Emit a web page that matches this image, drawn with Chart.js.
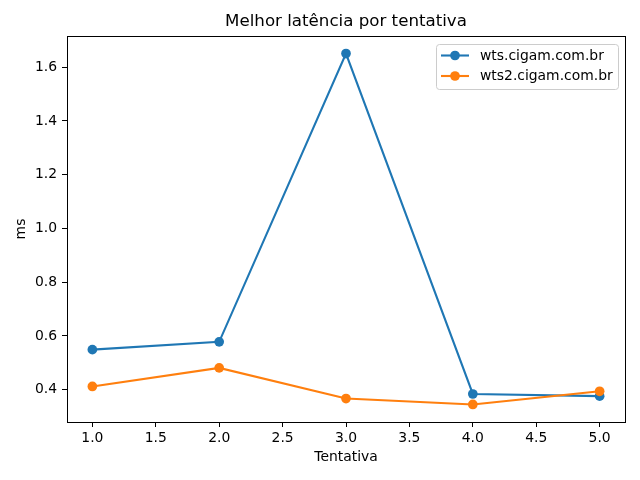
<!DOCTYPE html>
<html>
<head>
<meta charset="utf-8">
<script src="https://cdn.jsdelivr.net/npm/chart.js@4.4.1/dist/chart.umd.min.js"></script>
<style>
html,body{margin:0;padding:0;background:#fff;}
#wrap{width:640px;height:480px;}
</style>
</head>
<body>
<div id="wrap"><canvas id="c" width="640" height="480"></canvas></div>
<script>
const attempts = [1, 2, 3, 4, 5];
const seriesNames = ['wts.cigam.com.br', 'wts2.cigam.com.br'];
const wtsValues = [0.549, 0.578, 1.651, 0.384, 0.376];
const wts2Values = [0.412, 0.481, 0.367, 0.345, 0.394];
const xTickValues = [1.0, 1.5, 2.0, 2.5, 3.0, 3.5, 4.0, 4.5, 5.0];
const yTickValues = [0.4, 0.6, 0.8, 1.0, 1.2, 1.4, 1.6];

const FONT = 'DejaVu Sans';
Chart.defaults.font.family = FONT;
Chart.defaults.color = '#000';

function pts(vals){ return attempts.map((x,i)=>({x:x, y:vals[i]})); }

const allY = wtsValues.concat(wts2Values);
const yMinD = Math.min(...allY), yMaxD = Math.max(...allY);
const yM = (yMaxD - yMinD) * 0.05;
const xM = (attempts[attempts.length-1] - attempts[0]) * 0.05;

const colors = ['#1f77b4', '#ff7f0e'];
const MR = 4.85;

const frame = {
  id: 'frame',
  afterDatasetsDraw(chart){
    const {ctx, chartArea:a} = chart;
    ctx.save();
    ctx.strokeStyle = '#000';
    ctx.lineWidth = 1;
    ctx.strokeRect(Math.round(a.left)+0.5, Math.round(a.top)+0.5, Math.round(a.right-a.left), Math.round(a.bottom-a.top));
    ctx.restore();
  },
  afterDraw(chart){
    const ctx = chart.ctx;
    ctx.save();
    const bx = 436, by = 44, bw = 182, bh = 45;
    ctx.beginPath();
    ctx.roundRect(bx+0.5, by+0.5, bw, bh, 3);
    ctx.fillStyle = 'rgba(255,255,255,0.8)';
    ctx.fill();
    ctx.strokeStyle = '#cccccc';
    ctx.lineWidth = 1;
    ctx.stroke();
    ctx.font = '13.9px "' + FONT + '"';
    ctx.textBaseline = 'middle';
    ctx.textAlign = 'left';
    const rows = [55.5, 76];
    seriesNames.forEach((name, i) => {
      const y = rows[i];
      ctx.strokeStyle = colors[i];
      ctx.lineWidth = 2.1;
      ctx.beginPath();
      ctx.moveTo(441, y); ctx.lineTo(469, y);
      ctx.stroke();
      ctx.fillStyle = colors[i];
      ctx.beginPath();
      ctx.arc(455, y, MR, 0, Math.PI*2);
      ctx.fill();
      ctx.fillStyle = '#000';
      ctx.fillText(name, 480, y + 0.5);
    });
    ctx.restore();
  }
};

function filterTicks(vals){
  return function(axis){
    axis.ticks = vals.filter(v => v >= axis.min - 1e-9 && v <= axis.max + 1e-9).map(v => ({value: v}));
  };
}

new Chart(document.getElementById('c'), {
  type: 'line',
  data: {
    datasets: [
      { label: seriesNames[0], data: pts(wtsValues), borderColor: colors[0], backgroundColor: colors[0],
        borderWidth: 2.1, pointRadius: MR, pointHoverRadius: MR, pointBorderWidth: 0, tension: 0, order: 1 },
      { label: seriesNames[1], data: pts(wts2Values), borderColor: colors[1], backgroundColor: colors[1],
        borderWidth: 2.1, pointRadius: MR, pointHoverRadius: MR, pointBorderWidth: 0, tension: 0, order: 0 }
    ]
  },
  options: {
    responsive: false,
    animation: false,
    devicePixelRatio: 1,
    layout: { padding: { left: 0, right: 15, top: 0, bottom: 0 } },
    plugins: {
      legend: { display: false },
      tooltip: { enabled: false },
      title: { display: true, fullSize: false, text: 'Melhor latência por tentativa', color: '#000',
        font: { size: 16.67, weight: 'normal', family: FONT, lineHeight: 1.2 },
        padding: { top: 12, bottom: 4 } }
    },
    scales: {
      x: {
        type: 'linear',
        min: attempts[0] - xM, max: attempts[attempts.length-1] + xM,
        afterBuildTicks: filterTicks(xTickValues),
        afterFit(s){ s.height = 58; },
        grid: { display: true, drawOnChartArea: false, drawTicks: true, tickLength: 5, color: '#000', tickWidth: 1 },
        border: { display: true, color: '#000', width: 1 },
        ticks: { padding: 3, color: '#000', font: { size: 13.9, family: FONT }, maxRotation: 0, autoSkip: false,
          includeBounds: false, callback: v => Number(v).toFixed(1) },
        title: { display: true, text: 'Tentativa', color: '#000', font: { size: 13.9, family: FONT, lineHeight: 1.2 },
          padding: { top: 0, bottom: 14.7 } }
      },
      y: {
        type: 'linear',
        min: yMinD - yM, max: yMaxD + yM,
        afterBuildTicks: filterTicks(yTickValues),
        afterFit(s){ s.width = 67; },
        grid: { display: true, drawOnChartArea: false, drawTicks: true, tickLength: 5, color: '#000', tickWidth: 1 },
        border: { display: true, color: '#000', width: 1 },
        ticks: { padding: 5, color: '#000', font: { size: 13.9, family: FONT }, autoSkip: false,
          includeBounds: false, callback: v => Number(v).toFixed(1) },
        title: { display: true, text: 'ms', color: '#000', font: { size: 13.9, family: FONT, lineHeight: 1.2 },
          padding: { top: 12.7, bottom: 0 } }
      }
    }
  },
  plugins: [frame]
});
</script>
</body>
</html>
